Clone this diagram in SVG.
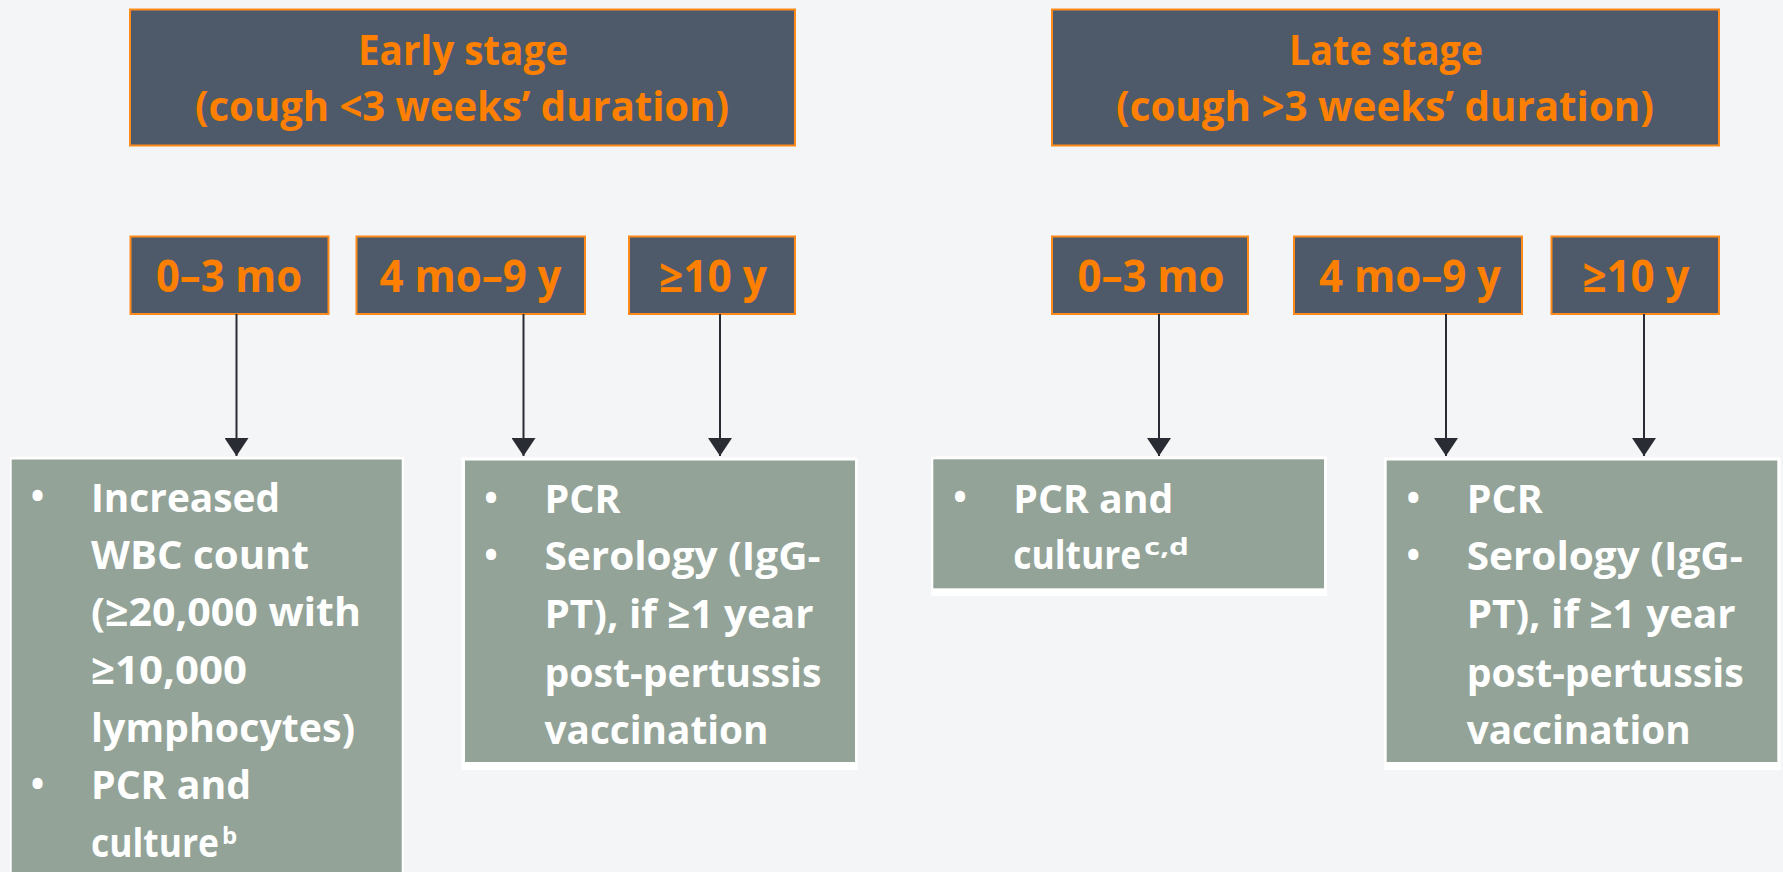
<svg xmlns="http://www.w3.org/2000/svg" width="1783" height="872" viewBox="0 0 1783 872">
<style>
.hdr{fill:#4e5a69;stroke:#ff8a1c;stroke-width:2}
.ht{fill:#ff8000;font-family:"Open Sans","Liberation Sans",sans-serif;font-weight:700;text-anchor:middle}
.rout{fill:#ffffff}
.rin{fill:#93a398}
.rt{fill:#ffffff;font-family:"Open Sans","Liberation Sans",sans-serif;font-weight:700;font-size:40px}
.bul{fill:#ffffff;font-family:"Open Sans","Liberation Sans",sans-serif;font-weight:700;font-size:36px;text-anchor:middle}
.sup{font-size:24px}
.con{stroke:#2a2c33;stroke-width:2;fill:none;marker-end:url(#arr)}
</style>
<defs>
<marker id="arr" markerUnits="userSpaceOnUse" markerWidth="18" markerHeight="24" viewBox="0 0 18 24" refX="18" refY="12" orient="auto">
<path d="M0,0 L18,12 L0,24 z" fill="#2a2c33"/>
</marker>
</defs>
<rect width="1783" height="872" fill="#f4f5f7"/>

<g id="early">
<rect class="hdr" x="130" y="9.5" width="665" height="136"/>
<text class="ht" x="463" y="65" font-size="42" textLength="210" lengthAdjust="spacingAndGlyphs">Early stage</text>
<text class="ht" x="462" y="120.5" font-size="42" textLength="534" lengthAdjust="spacingAndGlyphs">(cough &lt;3 weeks’ duration)</text>
</g>
<g id="late">
<rect class="hdr" x="1052" y="9.5" width="667" height="136"/>
<text class="ht" x="1386" y="65" font-size="42" textLength="194" lengthAdjust="spacingAndGlyphs">Late stage</text>
<text class="ht" x="1385" y="120.5" font-size="42" textLength="538" lengthAdjust="spacingAndGlyphs">(cough &gt;3 weeks’ duration)</text>
</g>

<g id="e-age1">
<rect class="hdr" x="130.5" y="236.5" width="198" height="77.5"/>
<text class="ht" x="229" y="291.5" font-size="44" textLength="146" lengthAdjust="spacingAndGlyphs">0–3 mo</text>
</g>
<g id="e-age2">
<rect class="hdr" x="356.5" y="236.5" width="228.5" height="77.5"/>
<text class="ht" x="470.5" y="291.5" font-size="44" textLength="182" lengthAdjust="spacingAndGlyphs">4 mo–9 y</text>
</g>
<g id="e-age3">
<rect class="hdr" x="629" y="236.5" width="166" height="77.5"/>
<text class="ht" x="713" y="291.5" font-size="44" textLength="108" lengthAdjust="spacingAndGlyphs">≥10 y</text>
</g>
<g id="l-age1">
<rect class="hdr" x="1052" y="236.5" width="196" height="77.5"/>
<text class="ht" x="1151" y="291.5" font-size="44" textLength="147" lengthAdjust="spacingAndGlyphs">0–3 mo</text>
</g>
<g id="l-age2">
<rect class="hdr" x="1294" y="236.5" width="228" height="77.5"/>
<text class="ht" x="1410" y="291.5" font-size="44" textLength="182" lengthAdjust="spacingAndGlyphs">4 mo–9 y</text>
</g>
<g id="l-age3">
<rect class="hdr" x="1551.5" y="236.5" width="167.5" height="77.5"/>
<text class="ht" x="1636" y="291.5" font-size="44" textLength="107" lengthAdjust="spacingAndGlyphs">≥10 y</text>
</g>

<g id="res-a">
<rect class="rout" x="10" y="457" width="394" height="420"/>
<rect class="rin" x="11.7" y="459.5" width="390" height="420"/>
<text class="bul" x="37.5" y="509">•</text>
<text class="bul" x="37.5" y="796.5">•</text>
<text class="rt" x="91" y="511.5" textLength="189" lengthAdjust="spacingAndGlyphs">Increased</text>
<text class="rt" x="91" y="568.5" textLength="218" lengthAdjust="spacingAndGlyphs">WBC count</text>
<text class="rt" x="91" y="626" textLength="270" lengthAdjust="spacingAndGlyphs">(≥20,000 with</text>
<text class="rt" x="91" y="684" textLength="156" lengthAdjust="spacingAndGlyphs">≥10,000</text>
<text class="rt" x="91" y="741.5" textLength="264" lengthAdjust="spacingAndGlyphs">lymphocytes)</text>
<text class="rt" x="91" y="799" textLength="160" lengthAdjust="spacingAndGlyphs">PCR and</text>
<text class="rt" x="91" y="856.5"><tspan textLength="128" lengthAdjust="spacingAndGlyphs">culture</tspan><tspan class="sup" x="222" dy="-13">b</tspan></text>
</g>

<g id="res-b">
<rect class="rout" x="461.5" y="457.5" width="396" height="312.5"/>
<rect class="rin" x="465" y="460.5" width="390" height="301.5"/>
<text class="bul" x="491" y="510.5">•</text>
<text class="bul" x="491" y="567.5">•</text>
<text class="rt" x="544.5" y="513" textLength="76" lengthAdjust="spacingAndGlyphs">PCR</text>
<text class="rt" x="544.5" y="570" textLength="276" lengthAdjust="spacingAndGlyphs">Serology (IgG-</text>
<text class="rt" x="544.5" y="628" textLength="269" lengthAdjust="spacingAndGlyphs">PT), if ≥1 year</text>
<text class="rt" x="544.5" y="686.5" textLength="277" lengthAdjust="spacingAndGlyphs">post-pertussis</text>
<text class="rt" x="544.5" y="743.5" textLength="224" lengthAdjust="spacingAndGlyphs">vaccination</text>
</g>

<g id="res-c">
<rect class="rout" x="931" y="456.5" width="396" height="139.5"/>
<rect class="rin" x="933.3" y="459.3" width="390.7" height="129"/>
<text class="bul" x="960" y="510">•</text>
<text class="rt" x="1013.3" y="512.7" textLength="160" lengthAdjust="spacingAndGlyphs">PCR and</text>
<text class="rt" x="1013.3" y="569.3"><tspan textLength="128" lengthAdjust="spacingAndGlyphs">culture</tspan><tspan class="sup" x="1144" dy="-14" textLength="45" lengthAdjust="spacingAndGlyphs">c,d</tspan></text>
</g>

<g id="res-d">
<rect class="rout" x="1384" y="457.5" width="396.7" height="312.5"/>
<rect class="rin" x="1386.7" y="460.5" width="390.6" height="301.5"/>
<text class="bul" x="1413.3" y="510.5">•</text>
<text class="bul" x="1413.3" y="567.5">•</text>
<text class="rt" x="1466.7" y="513" textLength="76" lengthAdjust="spacingAndGlyphs">PCR</text>
<text class="rt" x="1466.7" y="570" textLength="276" lengthAdjust="spacingAndGlyphs">Serology (IgG-</text>
<text class="rt" x="1466.7" y="628" textLength="269" lengthAdjust="spacingAndGlyphs">PT), if ≥1 year</text>
<text class="rt" x="1466.7" y="686.5" textLength="277" lengthAdjust="spacingAndGlyphs">post-pertussis</text>
<text class="rt" x="1466.7" y="743.5" textLength="224" lengthAdjust="spacingAndGlyphs">vaccination</text>
</g>

<g id="connectors">
<line class="con" x1="236.5" y1="314" x2="236.5" y2="456"/>
<line class="con" x1="523.5" y1="314" x2="523.5" y2="456"/>
<line class="con" x1="720" y1="314" x2="720" y2="456"/>
<line class="con" x1="1159" y1="314" x2="1159" y2="456"/>
<line class="con" x1="1446" y1="314" x2="1446" y2="456"/>
<line class="con" x1="1644" y1="314" x2="1644" y2="456"/>
</g>
</svg>
